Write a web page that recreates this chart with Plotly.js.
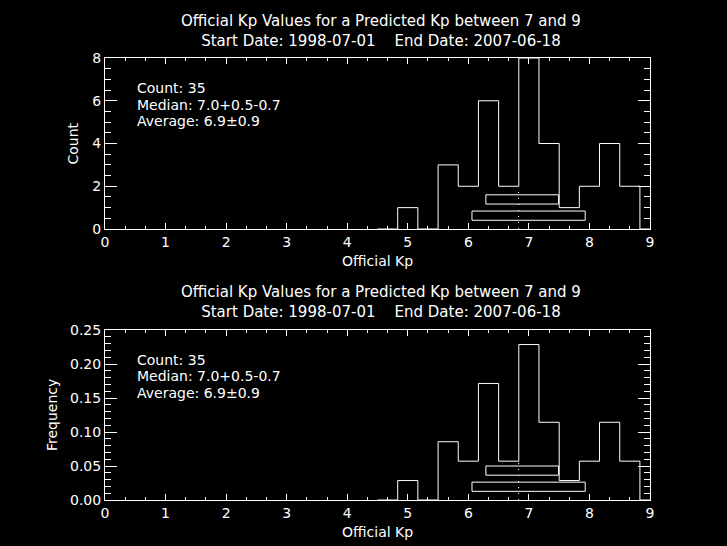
<!DOCTYPE html>
<html>
<head>
<meta charset="utf-8">
<script src="https://cdn.plot.ly/plotly-3.0.1.min.js"></script>
<style>html,body{margin:0;padding:0;background:#000;}#chart{width:727px;height:546px;}</style>
</head>
<body>
<div id="chart"></div>
<script>
// Kp bin centres (thirds of a Kp unit) and histogram values
var kpBins = [5, 5.333, 5.667, 6, 6.333, 6.667, 7, 7.333, 7.667, 8, 8.333, 8.667, 9];
var counts = [1, 0, 3, 2, 6, 2, 8, 4, 1, 2, 4, 2, 0];
var frequency = [0.0286, 0, 0.0857, 0.0571, 0.1714, 0.0571, 0.2286, 0.1143, 0.0286, 0.0571, 0.1143, 0.0571, 0];
var binWidth = 1/3;

// Summary bars (in Kp units)
var medianRange = [6.29, 7.49];
var averageRange = [6.06, 7.93];
var medianLine = 6.83;

var titleLine1 = "Official Kp Values for a Predicted Kp between 7 and 9";
var titleLine2 = "Start Date: 1998-07-01\u00a0\u00a0\u00a0\u00a0End Date: 2007-06-18";
var statLines = ["Count: 35", "Median: 7.0+0.5-0.7", "Average: 6.9\u00b10.9"];
var xTitle = "Official Kp";
var yTitles = ["Count", "Frequency"];

var FONT = "DejaVu Sans, sans-serif";
var W = 727, H = 546;

function stepTrace(vals, xa, ya) {
  var xs = [kpBins[0] - binWidth * 1.5], ys = [0];
  for (var i = 0; i < kpBins.length; i++) {
    xs.push(kpBins[i] - binWidth / 2);
    ys.push(vals[i]);
  }
  xs.push(kpBins[kpBins.length - 1] + binWidth / 2);
  ys.push(0);
  return {x: xs, y: ys, type: "scatter", mode: "lines", xaxis: xa, yaxis: ya,
          line: {shape: "hv", color: "#fff", width: 1}, hoverinfo: "skip", showlegend: false};
}

function px2paperY(py) { return 1 - py / H; }

var xCommon = {
  range: [0, 9], dtick: 1, tick0: 0, showgrid: false, zeroline: false,
  showline: true, linecolor: "#fff", linewidth: 1, mirror: "ticks",
  ticks: "inside", ticklen: 6, tickcolor: "#fff", tickwidth: 1,
  minor: {ticks: "inside", dtick: 1/3, ticklen: 3, tickcolor: "#fff", tickwidth: 1, showgrid: false},
  tickfont: {family: FONT, size: 14, color: "#fff"},
  fixedrange: true
};
function clone(o) { return JSON.parse(JSON.stringify(o)); }

var xa1 = clone(xCommon); xa1.domain = [105 / W, 650 / W]; xa1.anchor = "y";
var xa2 = clone(xCommon); xa2.domain = [105 / W, 650 / W]; xa2.anchor = "y2";

var ya1 = {
  domain: [px2paperY(229), px2paperY(58)], anchor: "x", range: [0, 8], dtick: 2, tick0: 0,
  showgrid: false, zeroline: false, showline: true, linecolor: "#fff", linewidth: 1, mirror: "ticks",
  ticks: "inside", ticklen: 12, tickcolor: "#fff", tickwidth: 1,
  minor: {ticks: "inside", dtick: 0.5, ticklen: 6, tickcolor: "#fff", tickwidth: 1, showgrid: false},
  tickfont: {family: FONT, size: 14, color: "#fff"}, fixedrange: true
};
var ya2 = {
  domain: [px2paperY(500), px2paperY(330)], anchor: "x2", range: [0, 0.25], dtick: 0.05, tick0: 0,
  tickformat: ".2f",
  showgrid: false, zeroline: false, showline: true, linecolor: "#fff", linewidth: 1, mirror: "ticks",
  ticks: "inside", ticklen: 12, tickcolor: "#fff", tickwidth: 1,
  minor: {ticks: "inside", dtick: 0.01, ticklen: 6, tickcolor: "#fff", tickwidth: 1, showgrid: false},
  tickfont: {family: FONT, size: 14, color: "#fff"}, fixedrange: true
};

var shapes = [];
var annotations = [];
[["x", "y"], ["x2", "y2"]].forEach(function (ax) {
  var xr = ax[0], yd = ax[1] + " domain";
  shapes.push({type: "rect", xref: xr, yref: yd, x0: medianRange[0], x1: medianRange[1], y0: 0.146, y1: 0.2,
               line: {color: "#fff", width: 1}, fillcolor: "rgba(0,0,0,0)"});
  shapes.push({type: "rect", xref: xr, yref: yd, x0: averageRange[0], x1: averageRange[1], y0: 0.051, y1: 0.105,
               line: {color: "#fff", width: 1}, fillcolor: "rgba(0,0,0,0)"});
  shapes.push({type: "line", xref: xr, yref: yd, x0: medianLine, x1: medianLine, y0: 0, y1: 0.23,
               line: {color: "#fff", width: 1, dash: "1px,5px"}});
  var ys = [0.826, 0.727, 0.632];
  statLines.forEach(function (t, i) {
    annotations.push({text: t, xref: ax[0] + " domain", yref: yd, x: 0.055, y: ys[i], xanchor: "left", yanchor: "middle",
                      showarrow: false, font: {family: FONT, size: 14, color: "#fff"}});
  });
});

function addTitle(centerY) {
  annotations.push({text: titleLine1 + "<br>" + titleLine2, xref: "paper", yref: "paper", x: 381 / W, y: px2paperY(centerY),
                    xanchor: "center", yanchor: "middle", align: "center", showarrow: false,
                    font: {family: FONT, size: 15, color: "#fff"}});
}
addTitle(31);
addTitle(302);

// axis titles
annotations.push({text: xTitle, xref: "paper", yref: "paper", x: 377.5 / W, y: px2paperY(261), xanchor: "center", yanchor: "middle",
                  showarrow: false, font: {family: FONT, size: 14, color: "#fff"}});
annotations.push({text: xTitle, xref: "paper", yref: "paper", x: 377.5 / W, y: px2paperY(532), xanchor: "center", yanchor: "middle",
                  showarrow: false, font: {family: FONT, size: 14, color: "#fff"}});
annotations.push({text: yTitles[0], xref: "paper", yref: "paper", x: 73 / W, y: px2paperY(143.5), xanchor: "center", yanchor: "middle",
                  textangle: -90, showarrow: false, font: {family: FONT, size: 14, color: "#fff"}});
annotations.push({text: yTitles[1], xref: "paper", yref: "paper", x: 52 / W, y: px2paperY(415), xanchor: "center", yanchor: "middle",
                  textangle: -90, showarrow: false, font: {family: FONT, size: 14, color: "#fff"}});

var data = [stepTrace(counts, "x", "y"), stepTrace(frequency, "x2", "y2")];

var layout = {
  width: W, height: H,
  margin: {l: 0, r: 0, t: 0, b: 0},
  paper_bgcolor: "#000", plot_bgcolor: "#000",
  xaxis: xa1, yaxis: ya1, xaxis2: xa2, yaxis2: ya2,
  shapes: shapes, annotations: annotations,
  showlegend: false, hovermode: false
};

Plotly.newPlot("chart", data, layout, {displayModeBar: false, staticPlot: true});
</script>
</body>
</html>
